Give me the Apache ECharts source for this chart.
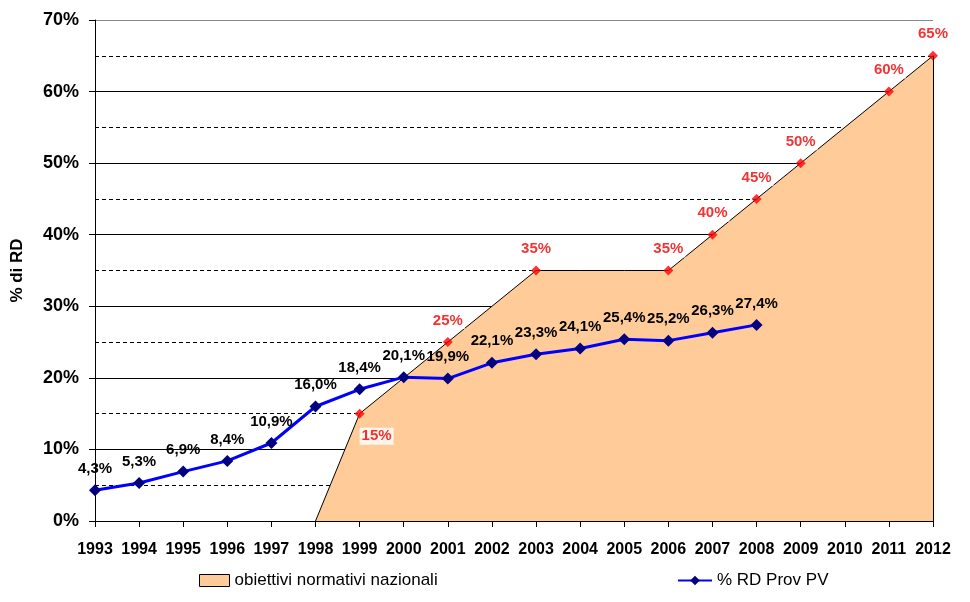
<!DOCTYPE html>
<html><head><meta charset="utf-8">
<script src="https://cdn.jsdelivr.net/npm/echarts@6/dist/echarts.min.js"></script>
<style>html,body{margin:0;padding:0;background:#fff}#c{width:970px;height:602px}</style>
</head><body><div id="c"></div>
<script>
var years = ['1993','1994','1995','1996','1997','1998','1999','2000','2001','2002','2003','2004','2005','2006','2007','2008','2009','2010','2011','2012'];
var rdProvPV = [4.3,5.3,6.9,8.4,10.9,16.0,18.4,20.1,19.9,22.1,23.3,24.1,25.4,25.2,26.3,27.4,null,null,null,null];
var obiettivi = [null,null,null,null,null,0,15,20,25,30,35,35,35,35,40,45,50,55,60,65];
var obiettiviMarkers = ['-','-','-','-','-','-',15,'-',25,'-',35,'-','-',35,40,45,50,'-',60,65];
var yTicks = [0,10,20,30,40,50,60,70];

var font = 'Liberation Sans, Arial, sans-serif';
var markerData = obiettiviMarkers.map(function(v,i){
  if(i===6){ return {value:v,label:{position:'bottom',distance:9,offset:[17,0]}}; }
  return v;
});
var chart = echarts.init(document.getElementById('c'));
chart.setOption({
  animation:false,
  backgroundColor:'#fff',
  grid:{left:95,right:37,top:20,bottom:81,containLabel:false},
  legend:[
    {left:194,top:567,itemWidth:30,itemHeight:12,itemGap:6,icon:'rect',
     data:['obiettivi normativi nazionali'],
     itemStyle:{borderColor:'#000',borderWidth:1},
     textStyle:{fontFamily:font,fontSize:17,color:'#000'}},
    {left:672,top:567,itemWidth:34,itemHeight:12,itemGap:6,
     data:['% RD Prov PV'],
     textStyle:{fontFamily:font,fontSize:17,color:'#000'}}
  ],
  xAxis:{
    type:'category',data:years,boundaryGap:false,
    axisLine:{lineStyle:{color:'#000',width:1}},
    axisTick:{show:true,length:6,lineStyle:{color:'#000'}},
    axisLabel:{interval:0,margin:21,fontFamily:font,fontSize:16,fontWeight:'bold',color:'#000'},
    splitLine:{show:false}
  },
  yAxis:{
    type:'value',min:yTicks[0],max:yTicks[yTicks.length-1],interval:10,
    name:'% di RD',nameLocation:'middle',nameGap:69,nameRotate:90,
    nameTextStyle:{fontFamily:font,fontSize:17,fontWeight:'bold',color:'#000'},
    axisLine:{show:true,lineStyle:{color:'#000'}},
    axisTick:{show:true,length:6,lineStyle:{color:'#000'}},
    axisLabel:{margin:16,fontFamily:font,fontSize:18,fontWeight:'bold',color:'#000',formatter:function(v){return v+'%';}},
    splitLine:{show:true,lineStyle:{color:['#000','#000','#000','#000','#000','#000','#000','#888'],width:1}},
    minorTick:{show:false,splitNumber:2},
    minorSplitLine:{show:true,lineStyle:{color:'#000',type:[4,3],width:1}}
  },
  series:[
    {
      name:'obiettivi normativi nazionali',type:'line',data:obiettivi,
      symbol:'none',z:2,
      itemStyle:{color:'#FFCC99'},
      lineStyle:{color:'#000',width:1},
      areaStyle:{color:'#FFCC99',opacity:1,origin:'start'},
      markLine:{silent:true,symbol:'none',label:{show:false},
        lineStyle:{color:'#000',width:1,type:'solid'},
        data:[[{coord:[years[years.length-1],0]},{coord:[years[years.length-1],obiettivi[obiettivi.length-1]]}]]}
    },
    {
      name:'target',type:'scatter',data:markerData,z:4,
      symbol:'diamond',symbolSize:10,
      itemStyle:{color:'#FF0000'},
      label:{show:true,position:'top',distance:8,color:'#EE0000',fontFamily:font,fontSize:15,fontWeight:'bold',
        backgroundColor:'#fff',padding:[1,2],
        formatter:function(p){return p.value+'%';}}
    },
    {
      name:'% RD Prov PV',type:'line',data:rdProvPV,z:5,
      symbol:'diamond',symbolSize:12,
      itemStyle:{color:'#000080'},
      lineStyle:{color:'#0000FF',width:3},
      label:{show:true,position:'top',distance:8,color:'#000',fontFamily:font,fontSize:15,fontWeight:'bold',
        formatter:function(p){return p.value.toFixed(1).replace('.',',')+'%';}}
    }
  ]
});
</script></body></html>
